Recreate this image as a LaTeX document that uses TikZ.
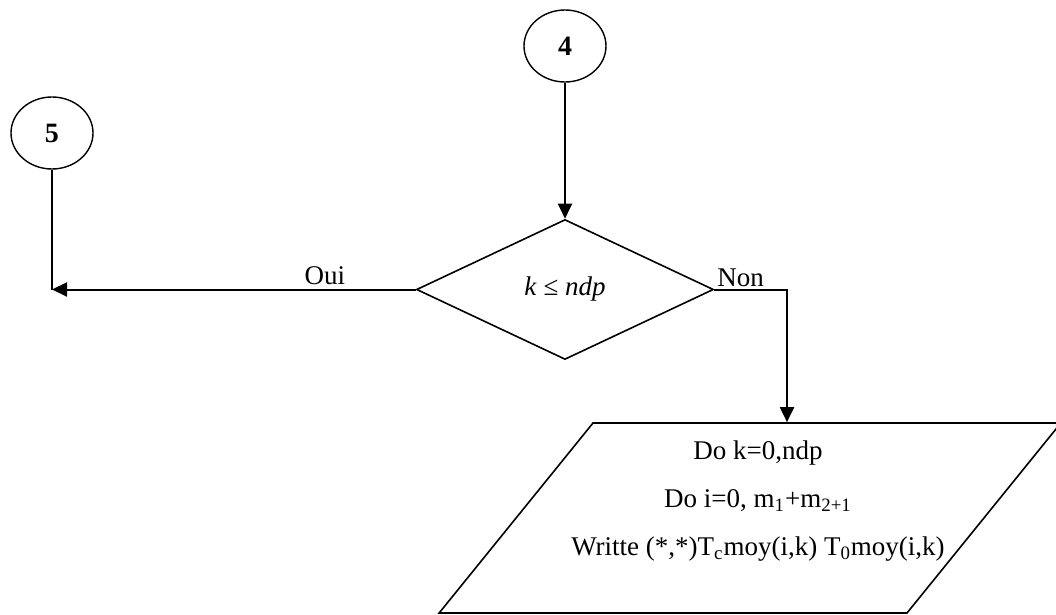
\documentclass[tikz,border=0pt]{standalone}
\usepackage{fontspec}
\setmainfont{Liberation Serif}
\usetikzlibrary{arrows.meta, positioning, shapes.geometric}

\begin{document}
\begin{tikzpicture}[x=0.5pt, y=-0.5pt,
    every node/.style={font=\fontsize{13.5}{24}\selectfont},
    flow/.style={-{Triangle[length=7.5pt, width=7pt]}, line width=1pt},
    link/.style={line width=1pt},
    connector/.style={ellipse, draw, line width=0.7pt, minimum width=41pt, minimum height=36pt, inner sep=0pt, font=\fontsize{14}{16}\selectfont\bfseries},
    decision/.style={diamond, draw, line width=0.8pt, minimum width=148.5pt, minimum height=70pt, inner sep=0pt},
    io/.style={trapezium, draw, line width=0.8pt, trapezium left angle=51, trapezium right angle=129, inner xsep=78.5pt, inner ysep=47.5pt}]

    \useasboundingbox (0,0) rectangle (1056,615);

    \node[connector] (c4) at (565,46) {4};
    \node[decision, below=68pt of c4] (cond) {\textit{k} ≤ \textit{ndp}};
    \node[connector] (c5) at (52,133) {5};
    \node[io] (out) at (750,518) {};
    \node[align=center] (outtxt) at (758,501) {Do k=0,ndp\\ Do i=0, m\textsubscript{1}+m\textsubscript{2+1}\\ Writte (*,*)T\textsubscript{c}moy(i,k) T\textsubscript{0}moy(i,k)};

    \coordinate (oui) at (c5.south |- cond.west);

    \draw[flow] (c4) -- (cond);
    \draw[flow] (cond.west) -- node[above, pos=.25, inner sep=2pt] {Oui} (oui);
    \draw[link] (c5) -- (oui);
    \draw[flow] (cond.east) -| node[above right, pos=0, inner sep=1pt] {Non} ([xshift=18.5pt]out.north);
\end{tikzpicture}
\end{document}
